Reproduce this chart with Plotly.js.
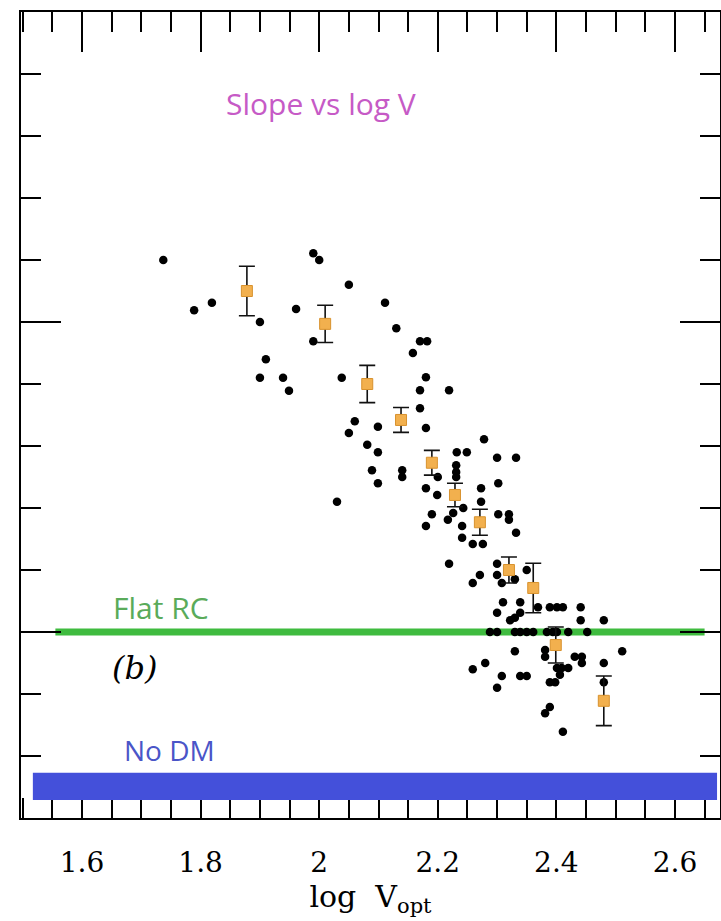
<!DOCTYPE html>
<html>
<head>
<meta charset="utf-8">
<script src="https://cdn.plot.ly/plotly-3.0.1.min.js"></script>
<style>html,body{margin:0;padding:0;background:#fff;}#chart{width:721px;height:921px;}</style>
</head>
<body>
<div id="chart"></div>
<script>
// Individual galaxies: log V_opt vs slope
const dotX = [1.737,1.789,1.819,1.900,1.990,2.000,2.050,1.961,1.990,1.910,1.900,1.939,1.949,2.038,
  2.111,2.130,2.170,2.182,2.158,2.180,2.170,2.219,2.170,2.060,2.050,2.099,2.180,2.278,2.081,2.099,
  2.232,2.249,2.300,2.332,2.231,2.231,2.231,2.089,2.099,2.140,2.140,2.200,2.302,2.180,2.199,2.273,
  2.273,2.030,2.243,2.226,2.190,2.217,2.180,2.241,2.302,2.320,2.320,2.332,2.241,2.259,2.276,2.219,
  2.300,2.300,2.271,2.259,2.308,2.330,2.350,2.310,2.339,2.300,2.339,2.322,2.330,2.369,2.389,2.401,
  2.411,2.441,2.441,2.480,
  2.288,2.300,2.330,2.339,2.350,2.361,2.384,2.394,2.401,2.420,2.452,
  2.330,2.381,2.381,2.511,2.431,2.443,2.443,2.480,2.280,2.259,2.401,2.409,2.420,2.308,2.339,2.350,
  2.406,2.389,2.398,2.480,2.300,2.389,2.381,2.411];
const dotY = [0.600,0.519,0.531,0.500,0.611,0.600,0.560,0.521,0.469,0.440,0.410,0.410,0.389,0.410,
  0.531,0.490,0.469,0.469,0.450,0.411,0.390,0.390,0.361,0.340,0.321,0.331,0.329,0.311,0.302,0.290,
  0.290,0.290,0.281,0.281,0.269,0.258,0.250,0.261,0.240,0.261,0.250,0.250,0.240,0.232,0.221,0.232,
  0.210,0.210,0.200,0.192,0.190,0.181,0.171,0.171,0.190,0.190,0.181,0.160,0.152,0.142,0.142,0.110,
  0.110,0.092,0.092,0.079,0.079,0.085,0.100,0.048,0.048,0.031,0.031,0.019,0.023,0.040,0.040,0.040,
  0.040,0.040,0.019,0.019,
  0.000,0.000,0.000,0.000,0.000,0.000,0.000,0.000,0.000,0.000,0.000,
  -0.031,-0.029,-0.040,-0.031,-0.040,-0.040,-0.050,-0.050,-0.050,-0.060,-0.058,-0.058,-0.058,-0.071,-0.071,-0.071,
  -0.069,-0.081,-0.081,-0.081,-0.090,-0.121,-0.131,-0.161];

// Binned averages with error bars
const binX = [1.878,2.010,2.081,2.138,2.190,2.229,2.271,2.320,2.361,2.399,2.480];
const binY = [0.550,0.497,0.400,0.342,0.273,0.221,0.177,0.100,0.071,-0.021,-0.111];
const binErr = [0.040,0.030,0.030,0.020,0.020,0.019,0.021,0.021,0.040,0.029,0.040];

const xTickVals = [1.6,1.8,2.0,2.2,2.4,2.6];
const xTickText = ['1.6','1.8','2','2.2','2.4','2.6'];

const flatRC = 0;             // slope of a flat rotation curve
const noDM = [-0.271,-0.227]; // band for no dark matter

const serif = '"DejaVu Serif", "Liberation Serif", serif';
const sans = '"Open Sans", "Noto Sans", sans-serif';

const traces = [
  {type:'scatter', mode:'markers', x:dotX, y:dotY,
   marker:{color:'#000', size:8.5}, hoverinfo:'skip', showlegend:false},
  {type:'scatter', mode:'markers', x:binX, y:binY,
   error_y:{type:'data', array:binErr, visible:true, color:'#111', thickness:1.6, width:8},
   marker:{symbol:'square', color:'#f2b04e', size:11, line:{color:'#d8922e', width:1}},
   hoverinfo:'skip', showlegend:false}
];

const layout = {
  width:721, height:921,
  margin:{l:21, r:1, t:12, b:103},
  paper_bgcolor:'#fff', plot_bgcolor:'#fff',
  showlegend:false,
  xaxis:{range:[1.497,2.676], showgrid:false, zeroline:false,
    showline:true, linecolor:'#000', linewidth:2, mirror:'allticks',
    ticks:'inside', ticklen:40, tickwidth:2, tickcolor:'#000',
    tickmode:'array', tickvals:xTickVals, ticktext:xTickText,
    ticklabelstandoff:18,
    tickfont:{family:serif, size:28, color:'#000'},
    minor:{ticks:'inside', ticklen:20, tickwidth:2, tickcolor:'#000', tickmode:'linear', tick0:1.5, dtick:0.05},
    title:{text:'log&nbsp;&nbsp;V<sub>opt</sub>', standoff:0,
      font:{family:serif, size:30, color:'#000'}}
  },
  yaxis:{range:[-0.3,1.0], showgrid:false, zeroline:false,
    showline:true, linecolor:'#000', linewidth:2, mirror:'allticks',
    ticks:'inside', ticklen:40, tickwidth:2, tickcolor:'#000',
    tickmode:'linear', tick0:0, dtick:0.5, showticklabels:false,
    minor:{ticks:'inside', ticklen:20, tickwidth:2, tickcolor:'#000', tickmode:'linear', tick0:0, dtick:0.1}
  },
  shapes:[
    {type:'line', xref:'x', yref:'y', x0:1.555, x1:2.65, y0:flatRC, y1:flatRC,
     line:{color:'#3fbb3f', width:7}, layer:'below'},
    {type:'rect', xref:'x', yref:'y', x0:1.517, x1:2.671, y0:noDM[0], y1:noDM[1],
     fillcolor:'#4450da', line:{width:0}, layer:'above'}
  ],
  annotations:[
    {text:'Slope vs log V', x:2.003, y:0.853, xref:'x', yref:'y', showarrow:false,
     font:{family:sans, size:30, color:'#c65ac6'}},
    {text:'Flat RC', x:1.733, y:0.039, xref:'x', yref:'y', showarrow:false,
     font:{family:sans, size:30, color:'#5aab5a'}},
    {text:'<i>(b)</i>', x:1.689, y:-0.058, xref:'x', yref:'y', showarrow:false,
     font:{family:serif, size:32, color:'#000'}},
    {text:'No DM', x:1.748, y:-0.190, xref:'x', yref:'y', showarrow:false,
     font:{family:sans, size:28, color:'#4a55c8'}}
  ]
};

Plotly.newPlot('chart', traces, layout, {displayModeBar:false, staticPlot:true});
</script>
</body>
</html>
